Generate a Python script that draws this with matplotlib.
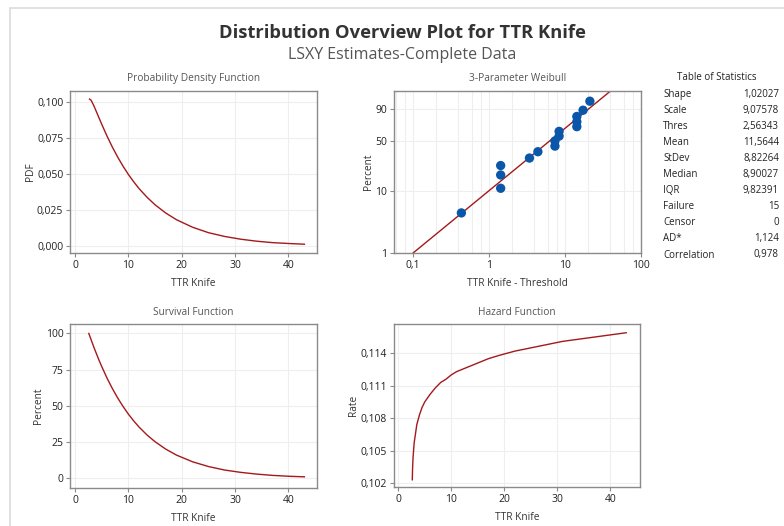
import numpy as np
import matplotlib
matplotlib.use('Agg')
import matplotlib.pyplot as plt
from matplotlib.patches import Rectangle
from matplotlib.ticker import LogLocator, NullLocator

plt.rcParams['font.family'] = ['Open Sans', 'DejaVu Sans']

# ---- data ----
pdf_x = [2.7, 3, 3.5, 4, 4.5, 5, 6, 7, 8, 9, 10, 11, 12, 13.5, 15, 17, 19,
         22, 25, 28, 31, 34, 37, 40, 43]
pdf_y = [0.1018, 0.1010, 0.0973, 0.0930, 0.0886, 0.0843, 0.0760, 0.0684,
         0.0615, 0.0552, 0.0495, 0.0444, 0.0397, 0.0337, 0.0285, 0.0228,
         0.0182, 0.0130, 0.0092, 0.0066, 0.0047, 0.0033, 0.0023, 0.0017,
         0.0012]

surv_x = [2.57, 3, 3.5, 4, 4.5, 5, 6, 7, 8, 9, 10, 11, 12, 13.5, 15, 17, 19,
          22, 25, 28, 31, 34, 37, 40, 43]
surv_y = [99.9, 95.6, 90.6, 85.9, 81.3, 77.0, 69.0, 61.8, 55.3, 49.5, 44.2,
          39.5, 35.3, 29.8, 25.2, 20.1, 16.0, 11.4, 8.1, 5.7, 4.1, 2.9, 2.0,
          1.4, 1.0]

haz_x = [2.65, 2.7, 2.75, 2.8, 3, 3.5, 4, 4.5, 5, 6, 7, 8, 9, 10, 11, 12,
         13.5, 15, 17, 19, 22, 25, 28, 31, 34, 37, 40, 43]
haz_y = [0.1023, 0.1033, 0.1039, 0.1044, 0.1057, 0.1074, 0.1083, 0.1090,
         0.1095, 0.1102, 0.1108, 0.1113, 0.1116, 0.1120, 0.1123, 0.1125,
         0.1128, 0.1131, 0.1135, 0.1138, 0.1142, 0.1145, 0.1148, 0.1151,
         0.1153, 0.1155, 0.1157, 0.1159]

ttr = [3, 4, 4, 4, 6, 7, 10, 10, 11, 11, 17, 17, 17, 20, 24]
thres = 2.56343
pct = [4.5, 11.0, 17.5, 24.0, 30.5, 37.0, 43.5, 50.0, 56.5, 63.0,
       69.5, 76.0, 82.5, 89.0, 95.5]
fit_x = [0.1, 40.5]
fit_pct = [1.0, 99.0]

stat_names = ['Shape', 'Scale', 'Thres', 'Mean', 'StDev', 'Median', 'IQR',
              'Failure', 'Censor', 'AD*', 'Correlation']
stat_vals = ['1,02027', '9,07578', '2,56343', '11,5644', '8,82264', '8,90027',
             '9,82391', '15', '0', '1,124', '0,978']

# ---- styling ----
W, H = 784, 526
line_c = '#a3191c'
dot_c = '#0a56a8'
frame_c = '#8a8a8a'
grid_c = '#eeeeee'
txt_c = '#333333'


def box(l, t, r, b):
    return [l / W, 1 - b / H, (r - l) / W, (b - t) / H]


def style(ax, title, xlabel, ylabel):
    for s in ax.spines.values():
        s.set_color(frame_c)
        s.set_linewidth(1.0)
    ax.tick_params(labelsize=7.5, colors=frame_c, labelcolor='#222222',
                   length=3, width=0.8, pad=2)
    ax.grid(True, color=grid_c, linewidth=0.8)
    ax.set_axisbelow(True)
    ax.set_title(title, fontsize=7.3, color='#555555', pad=7)
    ax.set_xlabel(xlabel, fontsize=7.3, color=txt_c, labelpad=5)
    ax.set_ylabel(ylabel, fontsize=7.3, color=txt_c, labelpad=1)


fig = plt.figure(figsize=(W / 100, H / 100), dpi=100)
fig.patches.append(Rectangle((9.5 / W, -0.1), 1.2, 1 - 7.5 / H + 0.1,
                             transform=fig.transFigure, fill=False,
                             edgecolor='#dcdcdc', linewidth=1.2))

fig.text(402 / W, 1 - 33 / H, 'Distribution Overview Plot for TTR Knife',
         ha='center', va='center', fontsize=13.2, fontweight='bold', color='#333333')
fig.text(402 / W, 1 - 55 / H, 'LSXY Estimates-Complete Data',
         ha='center', va='center', fontsize=11.5, color='#555555')

# PDF
ax1 = fig.add_axes(box(70.3, 90.7, 316.7, 253.3))
ax1.plot(pdf_x, pdf_y, color=line_c, lw=1.0)
ax1.set_xlim(-0.9, 45.3)
ax1.set_ylim(-0.0051, 0.1076)
ax1.set_xticks([0, 10, 20, 30, 40])
ax1.set_yticks([0, 0.025, 0.05, 0.075, 0.1],
               ['0,000', '0,025', '0,050', '0,075', '0,100'])
style(ax1, 'Probability Density Function', 'TTR Knife', 'PDF')

# Weibull probability plot
fwd = lambda p: np.log10(-np.log(1 - np.clip(p, 1e-9, 99.999999) / 100))
inv = lambda w: 100 * (1 - np.exp(-10 ** w))
ax2 = fig.add_axes(box(394, 90.7, 640.7, 253.3))
ax2.set_xscale('log')
ax2.set_yscale('function', functions=(fwd, inv))
ax2.plot(fit_x, fit_pct, color=line_c, lw=1.0)
ax2.scatter(np.array(ttr) - thres, pct, s=45, color=dot_c, zorder=3,
            edgecolors='none')
ax2.set_xlim(0.0567, 100)
ax2.set_ylim(1, 99)
ax2.set_xticks([0.1, 1, 10, 100], ['0,1', '1', '10', '100'])
ax2.set_yticks([1, 10, 50, 90], ['1', '10', '50', '90'])
ax2.xaxis.set_minor_locator(LogLocator(base=10, subs=[2, 4, 6, 8]))
ax2.xaxis.set_minor_formatter(plt.NullFormatter())
ax2.yaxis.set_minor_locator(NullLocator())
style(ax2, '3-Parameter Weibull', 'TTR Knife - Threshold', 'Percent')
ax2.grid(True, which='minor', axis='x', color=grid_c, linewidth=0.8)
ax2.tick_params(which='minor', length=0)

# Table of statistics
fig.text(717 / W, 1 - 78 / H, 'Table of Statistics', ha='center', va='center',
         fontsize=7, color='#222222')
for i, (n, v) in enumerate(zip(stat_names, stat_vals)):
    y = 1 - (94 + i * 16.1) / H
    fig.text(663 / W, y, n, ha='left', va='center', fontsize=7, color='#222222')
    fig.text(779 / W, y, v, ha='right', va='center', fontsize=7, color='#222222')

# Survival
ax3 = fig.add_axes(box(70.3, 324.3, 316.7, 487.7))
ax3.plot(surv_x, surv_y, color=line_c, lw=1.0)
ax3.set_xlim(-0.9, 45.3)
ax3.set_ylim(-6.5, 106.2)
ax3.set_xticks([0, 10, 20, 30, 40])
ax3.set_yticks([0, 25, 50, 75, 100])
style(ax3, 'Survival Function', 'TTR Knife', 'Percent')

# Hazard
ax4 = fig.add_axes(box(394, 324.3, 640, 486.7))
ax4.plot(haz_x, haz_y, color=line_c, lw=1.0)
ax4.set_xlim(-0.8, 45.6)
ax4.set_ylim(0.10166, 0.11668)
ax4.set_xticks([0, 10, 20, 30, 40])
ax4.set_yticks([0.102, 0.105, 0.108, 0.111, 0.114],
               ['0,102', '0,105', '0,108', '0,111', '0,114'])
style(ax4, 'Hazard Function', 'TTR Knife', 'Rate')

fig.savefig('out.png', dpi=100)
